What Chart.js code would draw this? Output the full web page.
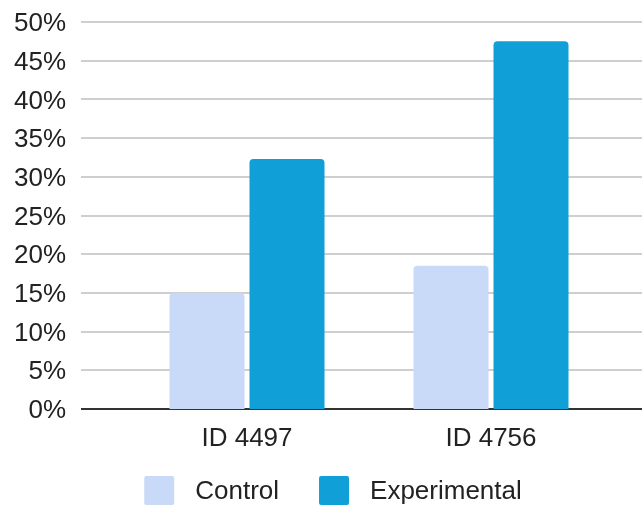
<!DOCTYPE html>
<html>
<head>
<meta charset="utf-8">
<script src="https://cdn.jsdelivr.net/npm/chart.js@4/dist/chart.umd.min.js"></script>
<style>
  html, body { margin: 0; padding: 0; background: #ffffff; }
  #wrap { width: 642px; height: 506px; position: relative; }
</style>
</head>
<body>
<div id="wrap"><canvas id="chart" width="642" height="506"></canvas></div>
<script>
// Categories, series and axis ticks
const categories = ['ID 4497', 'ID 4756'];
const seriesNames = ['Control', 'Experimental'];
const controlValues = [15, 18.5];
const experimentalValues = [32.3, 47.5];
const yTickValues = [0, 5, 10, 15, 20, 25, 30, 35, 40, 45, 50];

const seriesColors = ['#c9daf8', '#109fd6'];
const FONT = '"Liberation Sans", Arial, sans-serif';
const TEXT = '#222222';

// Horizontal gridlines spanning past the plot area, dark baseline at 0
const gridPlugin = {
  id: 'wideGrid',
  beforeDatasetsDraw(chart) {
    const { ctx, chartArea, scales } = chart;
    const y = scales.y;
    const x0 = chartArea.left - 44;
    const x1 = chart.width;
    ctx.save();
    y.ticks.forEach(t => {
      const py = Math.round(y.getPixelForValue(t.value));
      ctx.beginPath();
      ctx.lineWidth = 2;
      ctx.strokeStyle = t.value === 0 ? '#333333' : '#cfcfcf';
      ctx.moveTo(x0, py);
      ctx.lineTo(x1, py);
      ctx.stroke();
    });
    ctx.restore();
  }
};

// Legend drawn under the axis labels
const legendPlugin = {
  id: 'bottomLegend',
  afterDraw(chart) {
    const { ctx, chartArea } = chart;
    const boxW = 30, boxH = 29, textGap = 21, itemGap = 40;
    ctx.save();
    ctx.font = '26px ' + FONT;
    ctx.textBaseline = 'middle';
    ctx.textAlign = 'left';
    const items = chart.data.datasets.map(ds => ({
      label: ds.label, color: ds.backgroundColor,
      w: boxW + textGap + ctx.measureText(ds.label).width
    }));
    const total = items.reduce((s, it) => s + it.w, 0) + itemGap * (items.length - 1);
    let x = (chartArea.left + chartArea.right) / 2 - total / 2 - 36;
    const top = chartArea.bottom + 67;
    items.forEach(it => {
      ctx.fillStyle = it.color;
      ctx.beginPath();
      ctx.roundRect(x, top, boxW, boxH, 2);
      ctx.fill();
      ctx.fillStyle = TEXT;
      ctx.fillText(it.label, x + boxW + textGap, top + boxH / 2 + 1);
      x += it.w + itemGap;
    });
    ctx.restore();
  }
};

new Chart(document.getElementById('chart'), {
  type: 'bar',
  data: {
    labels: categories,
    datasets: [
      {
        label: seriesNames[0],
        data: controlValues,
        backgroundColor: seriesColors[0],
        borderRadius: { topLeft: 4, topRight: 4 },
        borderSkipped: 'start',
        barPercentage: 0.9375,
        categoryPercentage: 0.6557
      },
      {
        label: seriesNames[1],
        data: experimentalValues,
        backgroundColor: seriesColors[1],
        borderRadius: { topLeft: 4, topRight: 4 },
        borderSkipped: 'start',
        barPercentage: 0.9375,
        categoryPercentage: 0.6557
      }
    ]
  },
  options: {
    responsive: false,
    animation: false,
    devicePixelRatio: 1,
    layout: { padding: { top: 22, right: 29, bottom: 57, left: 0 } },
    plugins: {
      legend: { display: false },
      tooltip: { enabled: false }
    },
    scales: {
      x: {
        grid: { display: false, drawTicks: false },
        border: { display: false },
        ticks: {
          color: TEXT,
          font: { family: FONT, size: 26 },
          padding: 14,
          maxRotation: 0
        },
        afterFit(scale) { scale.height = 40; }
      },
      y: {
        min: 0,
        max: 50,
        grid: { display: false, drawTicks: true, tickLength: 59 },
        border: { display: false },
        afterBuildTicks(scale) {
          scale.ticks = yTickValues.map(v => ({ value: v }));
        },
        ticks: {
          color: TEXT,
          font: { family: FONT, size: 26 },
          padding: 0,
          labelOffset: 2,
          autoSkip: false,
          callback: v => v + '%'
        },
        afterFit(scale) { scale.width = 125; }
      }
    }
  },
  plugins: [gridPlugin, legendPlugin]
});
</script>
</body>
</html>
